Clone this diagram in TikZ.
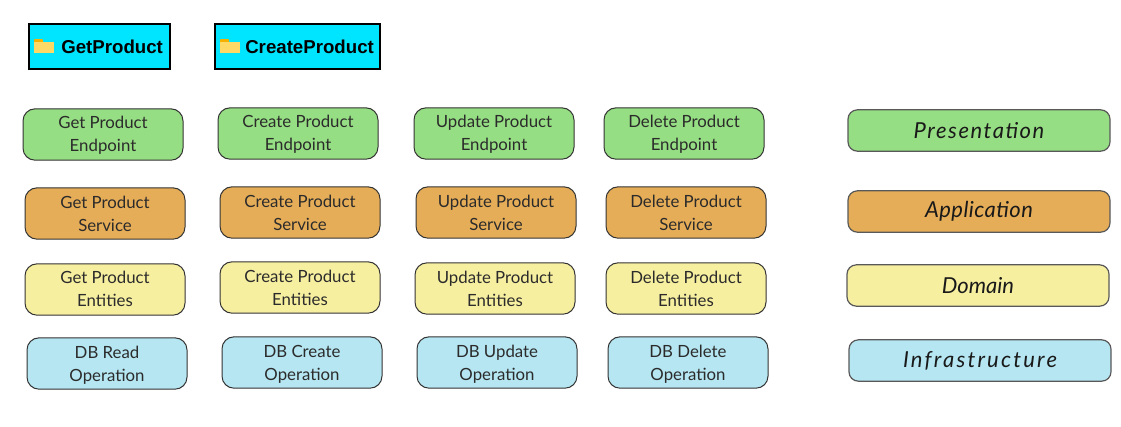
\documentclass[tikz,border=0pt]{standalone}
\usepackage{fontspec}
\setmainfont{Lato}
\newfontfamily\titlefont{Liberation Sans}
\newfontfamily\handfont{Lato Italic}
\definecolor{cyanbox}{HTML}{00E5FF}
\definecolor{greenbox}{HTML}{96DE83}
\definecolor{orangebox}{HTML}{E6AD58}
\definecolor{yellowbox}{HTML}{F7EFA0}
\definecolor{bluebox}{HTML}{B5E6F1}
\definecolor{inktext}{HTML}{2B2B2B}
\definecolor{folderbody}{HTML}{FFD966}
\definecolor{foldertab}{HTML}{F5B000}
\newcommand{\twolines}[3][12.7pt]{\rule{0pt}{#1}#2\\#3\rule[-3pt]{0pt}{3pt}}
\tikzset{
  x=0.75pt,y=-0.75pt,
  cardbox/.style={draw=black!80,line width=0.75pt,rounded corners=9pt,minimum width=120pt,minimum height=38.5pt,inner sep=0pt,align=center,text=inktext,font=\fontsize{12.6}{17.2}\selectfont},
  layerbox/.style={draw=black!65,line width=0.9pt,rounded corners=7pt,minimum width=196.5pt,minimum height=31pt,inner sep=0pt,text=black!90},
  handtext/.style={font=\handfont\fontsize{16.5}{19}\selectfont\addfontfeature{LetterSpace=#1}},
  titlebox/.style={draw=black,fill=cyanbox,line width=1.2pt,minimum height=33.5pt,inner sep=0pt},
  titletext/.style={font=\titlefont\bfseries\fontsize{14}{16}\selectfont,text=black,inner sep=0pt,anchor=west},
}
\begin{document}
\begin{tikzpicture}
\useasboundingbox (0,0) rectangle (1121,426);
% folders
\node[titlebox,minimum width=105.5pt] (t1) at (99.5,46.5) {};
\node[titlebox,minimum width=123.5pt] (t2) at (297.5,46.5) {};
\fill[foldertab,rounded corners=0.6pt] (34,39) rectangle (43,44);
\fill[folderbody] (34,41.5) rectangle (54,53);
\fill[foldertab,rounded corners=0.6pt] (220,39) rectangle (229,44);
\fill[folderbody] (220,41.5) rectangle (240,53);
\node[titletext] (t1l) at (61,46.5) {GetProduct};
\node[titletext] (t2l) at (245,46.5) {CreateProduct};
% presentation
\node[cardbox,fill=greenbox] (a1) at (103,134.5) {\twolines[11.2pt]{Get Product}{Endpoint}};
\node[cardbox,fill=greenbox] (a2) at (298,133.5) {\twolines[11.2pt]{Create Product}{Endpoint}};
\node[cardbox,fill=greenbox] (a3) at (494,133.5) {\twolines[11.2pt]{Update Product}{Endpoint}};
\node[cardbox,fill=greenbox] (a4) at (684,133.5) {\twolines[11.2pt]{Delete Product}{Endpoint}};
% application
\node[cardbox,fill=orangebox] (b1) at (105,213.5) {\twolines{Get Product}{Service}};
\node[cardbox,fill=orangebox] (b2) at (300,212.5) {\twolines{Create Product}{Service}};
\node[cardbox,fill=orangebox] (b3) at (496,212.5) {\twolines{Update Product}{Service}};
\node[cardbox,fill=orangebox] (b4) at (686,212.5) {\twolines{Delete Product}{Service}};
% domain
\node[cardbox,fill=yellowbox] (c1) at (105,289.5) {\twolines[11.2pt]{Get Product}{Entities}};
\node[cardbox,fill=yellowbox] (c2) at (300,287.5) {\twolines{Create Product}{Entities}};
\node[cardbox,fill=yellowbox] (c3) at (495,288.5) {\twolines{Update Product}{Entities}};
\node[cardbox,fill=yellowbox] (c4) at (686,288.5) {\twolines{Delete Product}{Entities}};
% infrastructure
\node[cardbox,fill=bluebox] (d1) at (107,363.5) {\twolines{DB Read}{Operation}};
\node[cardbox,fill=bluebox] (d2) at (302,362.5) {\twolines{DB Create}{Operation}};
\node[cardbox,fill=bluebox] (d3) at (497,362.5) {\twolines{DB Update}{Operation}};
\node[cardbox,fill=bluebox] (d4) at (688,362.5) {\twolines{DB Delete}{Operation}};
% legend
\node[layerbox,fill=greenbox,handtext=7] (l1) at (979,130.5) {Presentation};
\node[layerbox,fill=orangebox,handtext=2] (l2) at (979,211.5) {Application};
\node[layerbox,fill=yellowbox,handtext=0] (l3) at (978,285.5) {Domain};
\node[layerbox,fill=bluebox,handtext=10] (l4) at (980,360.5) {Infrastructure};
\end{tikzpicture}
\end{document}
